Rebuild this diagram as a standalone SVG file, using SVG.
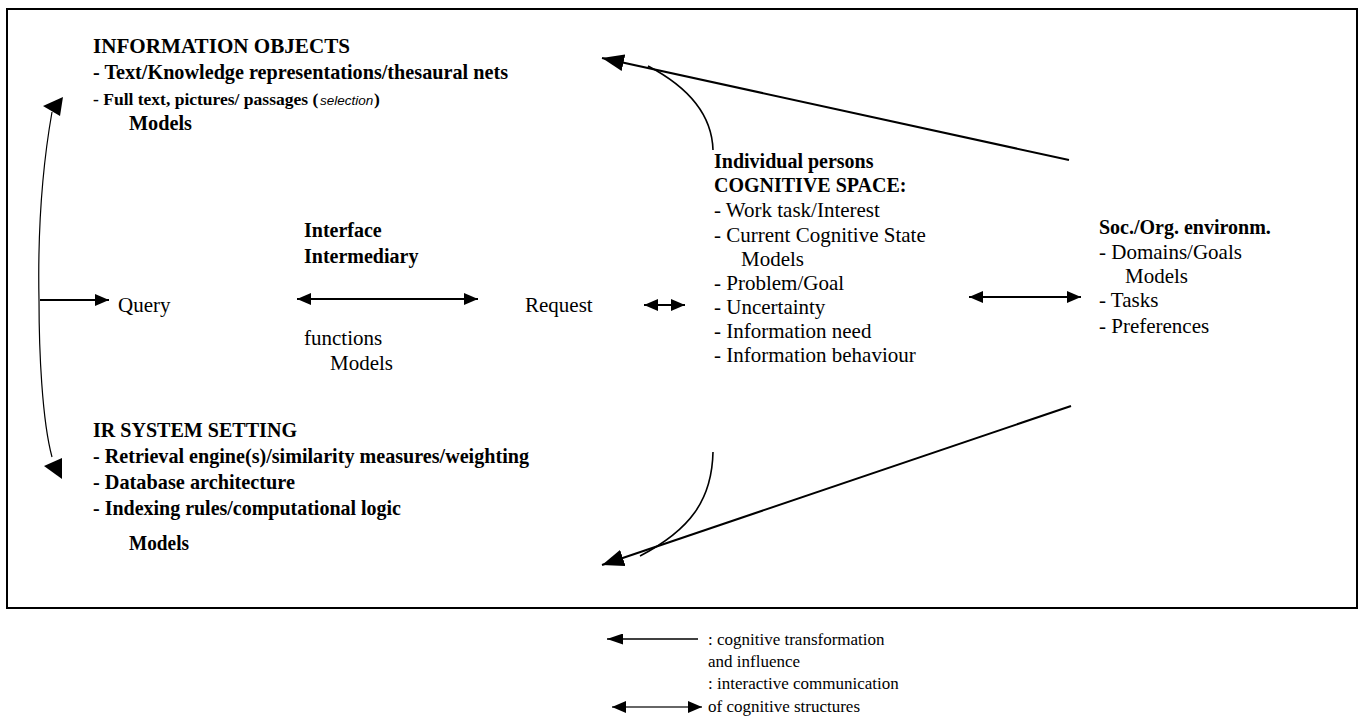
<svg xmlns="http://www.w3.org/2000/svg" width="1365" height="726" viewBox="0 0 1365 726">
<style>
text{font-family:"Liberation Serif","Times New Roman",serif;fill:#000}
.r{font-size:21px}
.b{font-size:20px;font-weight:bold}
.bc{font-size:21px;font-weight:bold}
.bs{font-size:17.5px;font-weight:bold}
.lg{font-size:17px}
.it{font-family:"Liberation Sans",Arial,sans-serif;font-style:italic;font-weight:normal;font-size:13.5px}
.ln{fill:none;stroke:#000;stroke-width:2}
.thin{fill:none;stroke:#000;stroke-width:1.2}
.cv{fill:none;stroke:#000;stroke-width:1.6}
</style>
<defs>
<marker id="ah" viewBox="0 0 14 12" refX="14" refY="6" markerWidth="14" markerHeight="12" markerUnits="userSpaceOnUse" orient="auto-start-reverse"><path d="M0,0 L14,6 L0,12 z" fill="#000"/></marker>
<marker id="big" viewBox="0 0 22 17" refX="22" refY="8.5" markerWidth="22" markerHeight="17" markerUnits="userSpaceOnUse" orient="auto"><path d="M0,0 L22,8.5 L0,17 z" fill="#000"/></marker>
<marker id="lgh" viewBox="0 0 16 11" refX="16" refY="5.5" markerWidth="16" markerHeight="11" markerUnits="userSpaceOnUse" orient="auto-start-reverse"><path d="M0,0 L16,5.5 L0,11 z" fill="#000"/></marker>
</defs>
<rect id="frame" x="7" y="9" width="1350" height="599" fill="none" stroke="#000" stroke-width="2"/>
<g id="connectors">
<path class="thin" d="M52,112 C40,180 38,250 39,300 C39,350 42,420 52,457"/>
<polygon points="43,106 63,97 60,116" fill="#000"/>
<polygon points="44,466 62,458 62,479" fill="#000"/>
<line class="ln" x1="40" y1="300" x2="109" y2="300" marker-end="url(#ah)"/>
<line class="ln" x1="297" y1="299" x2="478" y2="299" marker-start="url(#ah)" marker-end="url(#ah)"/>
<line class="ln" x1="644" y1="305" x2="685" y2="305" marker-start="url(#ah)" marker-end="url(#ah)"/>
<line class="ln" x1="969" y1="297" x2="1081" y2="297" marker-start="url(#ah)" marker-end="url(#ah)"/>
<line class="ln" x1="1069" y1="160" x2="602" y2="58" marker-end="url(#big)"/>
<path class="cv" d="M713,150 C712,115 690,88 648,66"/>
<line class="ln" x1="1071" y1="406" x2="602" y2="565" marker-end="url(#big)"/>
<path class="cv" d="M713,452 C712,500 690,530 640,556"/>
</g>
<g id="information-objects">
<text class="bc" x="93" y="53" textLength="257" lengthAdjust="spacingAndGlyphs">INFORMATION OBJECTS</text>
<text class="bc" x="93" y="79" textLength="415" lengthAdjust="spacingAndGlyphs">- Text/Knowledge representations/thesaural nets</text>
<text class="bs" x="93" y="105">- Full text, pictures/ passages (</text>
<text class="it" x="320" y="105">selection</text>
<text class="bs" x="374" y="105">)</text>
<text class="bc" x="129" y="130" textLength="63" lengthAdjust="spacingAndGlyphs">Models</text>
</g>
<g id="ir-system-setting">
<text class="bc" x="93" y="437" textLength="204" lengthAdjust="spacingAndGlyphs">IR SYSTEM SETTING</text>
<text class="bc" x="93" y="463" textLength="436" lengthAdjust="spacingAndGlyphs">- Retrieval engine(s)/similarity measures/weighting</text>
<text class="bc" x="93" y="489" textLength="202" lengthAdjust="spacingAndGlyphs">- Database architecture</text>
<text class="bc" x="93" y="515" textLength="308" lengthAdjust="spacingAndGlyphs">- Indexing rules/computational logic</text>
<text class="bc" x="129" y="550" textLength="60" lengthAdjust="spacingAndGlyphs">Models</text>
</g>
<g id="query"><text class="r" x="118" y="312">Query</text></g>
<g id="interface">
<text class="b" x="304" y="237">Interface</text>
<text class="b" x="304" y="263">Intermediary</text>
<text class="r" x="304" y="345">functions</text>
<text class="r" x="330" y="370">Models</text>
</g>
<g id="request"><text class="r" x="525" y="312">Request</text></g>
<g id="cognitive-space">
<text class="b" x="714" y="168">Individual persons</text>
<text class="b" x="714" y="192">COGNITIVE SPACE:</text>
<text class="r" x="714" y="217">- Work task/Interest</text>
<text class="r" x="714" y="242">- Current Cognitive State</text>
<text class="r" x="741" y="266">Models</text>
<text class="r" x="714" y="290">- Problem/Goal</text>
<text class="r" x="714" y="314">- Uncertainty</text>
<text class="r" x="714" y="338">- Information need</text>
<text class="r" x="714" y="362">- Information behaviour</text>
</g>
<g id="soc-org">
<text class="b" x="1099" y="234">Soc./Org. environm.</text>
<text class="r" x="1099" y="259">- Domains/Goals</text>
<text class="r" x="1125" y="283">Models</text>
<text class="r" x="1099" y="307">- Tasks</text>
<text class="r" x="1099" y="333">- Preferences</text>
</g>
<g id="legend">
<line x1="607" y1="639" x2="698" y2="639" stroke="#000" stroke-width="1.5" marker-start="url(#lgh)"/>
<text class="lg" x="708" y="645">: cognitive transformation</text>
<text class="lg" x="708" y="667">and influence</text>
<line x1="612" y1="707" x2="702" y2="707" stroke="#666" stroke-width="2" marker-start="url(#ah)" marker-end="url(#ah)"/>
<text class="lg" x="708" y="689">: interactive communication</text>
<text class="lg" x="708" y="712">of cognitive structures</text>
</g>
</svg>
